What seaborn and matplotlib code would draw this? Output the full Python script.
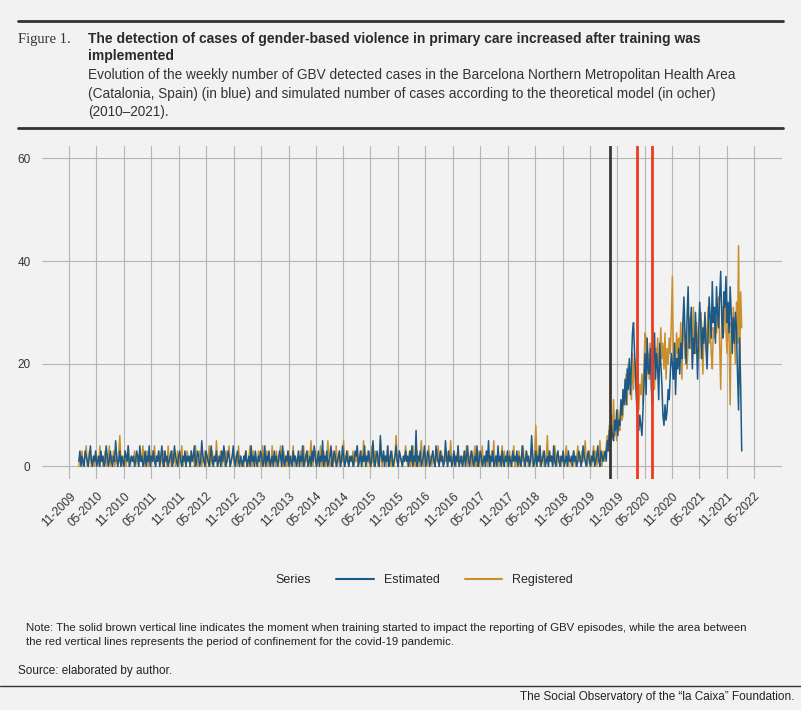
import pandas as pd
import numpy as np
import matplotlib.pyplot as plt
import matplotlib.dates as mdates
from matplotlib.lines import Line2D
import seaborn as sns

# === Data (weekly counts) ===
estimated_values = [
    1,3,0,2,1,0,3,2,1,0,2,4,1,0,2,1,3,0,1,2,0,3,1,2,0,1,4,2,0,1,3,1,0,2,1,5,2,0,1,3,0,2,1,0,3,2,1,4,0,1,2,1,
    2,0,1,3,2,0,4,1,2,0,1,3,0,2,1,4,0,2,1,3,1,0,2,1,3,0,2,4,1,0,3,1,2,0,1,2,3,0,1,4,2,1,0,2,3,1,0,2,1,3,0,2,
    1,2,0,3,1,2,4,0,1,3,2,0,1,5,2,1,0,3,2,1,0,2,4,1,0,2,1,3,0,1,2,0,3,1,4,2,0,1,3,2,0,1,2,4,1,0,2,3,1,0,2,1,
    0,2,1,3,0,1,2,0,4,1,2,0,3,1,0,2,1,3,2,0,1,4,0,2,1,3,0,1,2,0,3,1,2,0,1,3,2,0,4,1,0,2,1,3,0,2,1,0,3,1,2,0,
    1,3,0,2,1,4,0,1,2,3,0,1,2,0,3,1,4,2,0,1,3,0,2,1,5,0,2,1,3,0,1,2,4,0,1,3,2,0,1,2,3,0,1,4,2,0,1,3,1,0,2,1,
    2,0,1,3,2,4,0,1,3,0,2,1,4,0,2,1,3,1,0,2,5,1,0,2,3,1,0,6,2,1,3,0,2,1,4,0,1,3,2,0,1,2,4,1,0,3,2,1,0,2,1,3,
    1,2,0,3,1,4,0,2,1,7,0,2,1,3,0,1,2,4,0,1,3,2,0,1,2,3,1,0,4,2,1,0,3,1,2,0,1,5,2,0,3,1,2,0,1,3,0,2,1,4,0,1,
    2,0,1,3,0,2,4,1,0,2,3,1,0,2,1,4,0,1,3,2,0,1,2,0,3,1,5,0,2,1,3,0,1,2,0,4,1,2,0,3,1,0,2,1,3,0,2,1,0,3,1,2,
    1,3,0,2,1,0,4,2,1,0,3,1,2,0,1,6,2,0,1,3,0,2,1,4,0,1,2,3,0,1,2,0,3,1,2,0,4,1,0,2,3,1,0,2,1,3,0,1,2,0,3,1,
    1,2,0,3,1,2,0,1,3,2,0,1,4,2,1,0,2,3,1,0,2,1,3,0,1,2,4,1,0,3,2,1,2,3,1,5,3,7,4,8,6,5,9,7,11,6,9,8,13,10,15,12,
    17,12,19,15,21,14,20,26,28,22,18,12,9,7,10,8,6,11,16,22,14,25,19,18,23,15,12,21,26,17,22,19,13,24,20,16,10,8,12,9,11,15,13,18,22,20,17,24,14,21,19,23,
    18,24,21,28,33,26,20,29,35,23,27,31,19,25,22,30,24,17,26,32,28,21,27,24,30,23,19,26,33,29,25,36,28,31,24,35,30,27,33,38,29,25,34,31,37,28,32,26,35,30,22,29,
    24,30,27,18,11,25,16,3,
]
registered_values = [
    0,2,1,3,0,1,2,4,0,1,3,2,0,1,2,0,3,1,2,0,4,1,2,0,1,3,0,2,1,4,0,2,1,3,0,1,2,0,3,6,1,0,2,1,3,0,2,4,1,0,2,1,
    1,3,0,2,1,0,3,1,2,4,0,1,2,3,0,1,2,0,3,1,4,0,2,1,3,0,2,1,0,3,2,1,0,4,1,2,0,3,1,2,0,1,3,0,2,1,4,0,1,2,0,3,
    2,1,0,3,1,2,0,4,1,0,2,3,1,0,2,1,3,0,2,1,4,0,1,3,0,2,1,5,0,2,1,3,0,1,2,0,3,1,2,4,0,1,2,3,0,1,2,0,4,1,2,0,
    1,0,2,3,1,0,2,4,1,0,3,1,2,0,1,3,2,0,1,4,0,2,1,3,0,2,1,0,4,1,2,0,3,1,0,2,4,1,0,3,1,2,0,1,3,0,2,1,4,0,2,1,
    0,2,1,3,0,1,4,0,2,1,3,0,2,5,1,0,2,3,1,0,2,1,4,0,1,3,2,0,1,5,2,0,1,3,0,2,1,4,0,1,3,0,2,1,5,0,2,1,3,0,1,2,
    1,3,0,2,1,4,0,2,1,3,0,5,1,2,0,3,1,0,2,4,1,0,3,2,1,0,2,5,1,0,3,1,2,0,4,1,2,0,3,1,0,2,6,1,0,3,2,1,0,2,1,4,
    2,0,1,3,0,2,4,1,0,2,3,1,0,2,5,1,0,3,2,1,0,4,1,2,0,3,1,0,2,1,4,0,2,3,1,0,2,1,3,0,1,2,5,0,1,3,2,0,1,4,0,2,
    1,2,0,3,1,4,0,2,1,3,0,1,2,4,0,1,3,0,2,1,4,0,2,1,3,0,1,2,0,3,1,5,0,2,1,3,0,1,2,4,0,3,1,2,0,1,3,0,2,1,4,0,
    0,2,1,3,0,2,1,4,0,1,3,2,0,1,2,4,0,1,3,8,2,1,4,0,2,1,3,0,1,2,6,0,3,1,2,0,1,4,2,0,3,1,2,0,1,3,0,2,4,1,0,2,
    1,0,2,3,1,0,2,4,1,2,0,3,1,2,5,1,0,2,3,1,0,2,4,1,3,0,2,1,5,2,0,3,1,2,4,6,4,8,5,10,7,13,6,9,5,11,8,7,12,9,10,14,
    14,18,12,20,16,19,13,22,15,21,17,13,19,11,16,14,18,12,20,26,25,18,22,17,24,21,19,26,15,23,20,25,18,22,27,21,24,19,26,17,23,20,25,22,28,37,21,24,19,26,22,25,
    22,28,17,25,30,21,26,19,24,29,23,27,20,31,25,22,28,24,26,21,30,27,18,25,29,23,26,31,24,28,22,19,27,25,30,26,29,33,24,15,28,31,26,34,27,22,30,25,12,28,26,31,
    26,20,32,24,43,19,34,27,
]
series_names = ["Estimated", "Registered"]
series_colors = ["#1d5986", "#c98f2c"]
training_start = "2019-09-10"
confinement = ["2020-03-14", "2020-06-21"]
tick_dates = pd.date_range("2009-11-01", "2022-05-01", freq="6MS")

title = "The detection of cases of gender-based violence in primary care increased after training was\nimplemented"
subtitle = ("Evolution of the weekly number of GBV detected cases in the Barcelona Northern Metropolitan Health Area\n"
            "(Catalonia, Spain) (in blue) and simulated number of cases according to the theoretical model (in ocher)\n"
            "(2010\u20132021).")
note = ("Note: The solid brown vertical line indicates the moment when training started to impact the reporting of GBV episodes, while the area between\n"
        "the red vertical lines represents the period of confinement for the covid-19 pandemic.")

df = pd.concat([
    pd.DataFrame({"Date": pd.date_range("2010-01-04", periods=len(v), freq="7D"), "Cases": v, "Series": n})
    for n, v in zip(series_names, [estimated_values, registered_values])
])

# === Plot ===
sns.set_theme(style="whitegrid")
plt.rcParams["font.family"] = ["Liberation Sans", "DejaVu Sans"]
bg = "#f2f2f2"
fig = plt.figure(figsize=(8.01, 7.10), dpi=100, facecolor=bg)
ax = fig.add_axes([0.052, 0.325, 0.924, 0.47], facecolor=bg)

sns.lineplot(data=df[df.Series == "Registered"], x="Date", y="Cases", color=series_colors[1], lw=1.1, ax=ax, legend=False)
sns.lineplot(data=df[df.Series == "Estimated"], x="Date", y="Cases", color=series_colors[0], lw=1.1, ax=ax, legend=False)

ax.axvline(pd.Timestamp(training_start), color="#3b3631", lw=2)
for d in confinement:
    ax.axvline(pd.Timestamp(d), color="#ee3b24", lw=2)

ax.set_xlim(pd.Timestamp("2009-05-01"), pd.Timestamp("2022-11-01"))
ax.set_ylim(-2.5, 62.5)
ax.set_yticks([0, 20, 40, 60])
ax.set_xticks(tick_dates)
ax.xaxis.set_major_formatter(mdates.DateFormatter("%m-%Y"))
plt.setp(ax.get_xticklabels(), rotation=45, ha="right", rotation_mode="anchor")
ax.tick_params(labelsize=8.5, colors="#333333", pad=2)
ax.grid(True, color="#b5b5b5", lw=0.8)
ax.set_xlabel("")
ax.set_ylabel("")
for s in ax.spines.values():
    s.set_visible(False)

handles = [Line2D([], [], color="none")] + [Line2D([], [], color=c, lw=1.5) for c in series_colors]
fig.legend(handles, ["Series"] + series_names, loc="center", bbox_to_anchor=(0.5, 0.183), ncol=3,
           frameon=False, fontsize=9, handlelength=3, columnspacing=2, handletextpad=0.8)

# Header / footer
fig.add_artist(Line2D([0.022, 0.978], [0.97, 0.97], color="#333333", lw=2))
fig.add_artist(Line2D([0.022, 0.978], [0.82, 0.82], color="#333333", lw=2))
fig.text(0.022, 0.945, "Figure 1.", fontsize=10.5, family=["Liberation Serif"], va="center", color="#333333")
fig.text(0.11, 0.933, title, fontsize=10, fontweight="bold", va="center", color="#2a2a2a", linespacing=1.3)
fig.text(0.11, 0.868, subtitle, fontsize=9.8, va="center", color="#333333", linespacing=1.4)
fig.text(0.033, 0.106, note, fontsize=8.2, va="center", color="#222222", linespacing=1.5)
fig.text(0.022, 0.055, "Source: elaborated by author.", fontsize=8.5, va="center", color="#222222")
fig.add_artist(Line2D([0.0, 1.0], [0.034, 0.034], color="#333333", lw=1))
fig.text(0.992, 0.018, "The Social Observatory of the \u201cla Caixa\u201d Foundation.", fontsize=8.5, ha="right", va="center", color="#222222")

plt.savefig("out.png", dpi=100, facecolor=bg)
